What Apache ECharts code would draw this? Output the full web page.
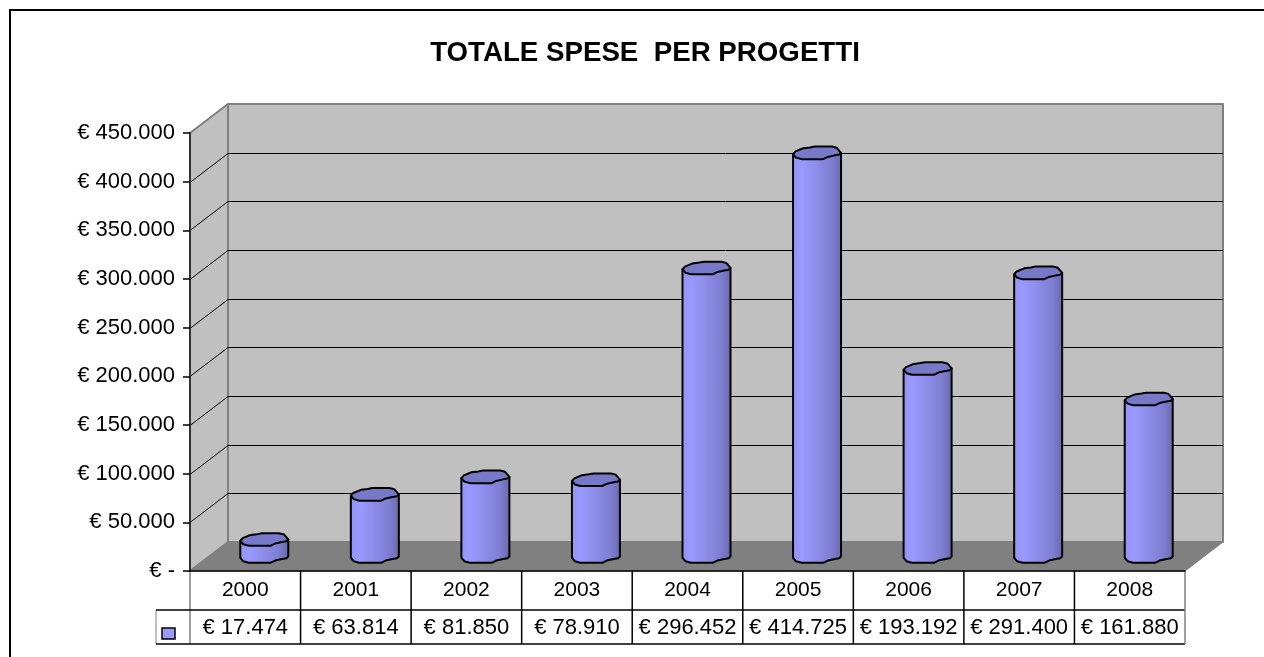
<!DOCTYPE html>
<html>
<head>
<meta charset="utf-8">
<title>Totale spese per progetti</title>
<script src="https://cdn.jsdelivr.net/npm/echarts@6/dist/echarts.min.js"></script>
<style>
    html, body { margin: 0; padding: 0; background: #fff; overflow: hidden; }
    #chart { width: 1264px; height: 657px; }
</style>
</head>
<body>
<div id="chart"></div>
<script>
const years = ['2000', '2001', '2002', '2003', '2004', '2005', '2006', '2007', '2008'];
const spese = [17474, 63814, 81850, 78910, 296452, 414725, 193192, 291400, 161880];
const yTicks = [0, 50000, 100000, 150000, 200000, 250000, 300000, 350000, 400000, 450000];

const FONT = '"Liberation Sans", Arial, sans-serif';
const DEPTH_X = 38;
const DEPTH_Y = 29;
const ROW_YEAR = 39;
const ROW_VALUE = 34;
const LEGEND_W = 34;

// contour of the low-poly cylinder cap, as fractions of the two radii
const capFront = [[1, 0], [0.92, 0.28], [0.74, 0.4], [0.45, 0.65], [0.26, 1], [-0.65, 1], [-0.88, 0.75], [-1, 0.2]];
const capBack = [[-0.9, -0.22], [-0.58, -0.72], [-0.3, -0.85], [-0.1, -1], [0.62, -1], [0.82, -0.8]];
const capOutline = capFront.concat(capBack);

const euro = (v) => v === 0 ? '€ -' : '€ ' + String(v).replace(/\B(?=(\d{3})+$)/g, '.');

const line = (x1, y1, x2, y2, stroke, lineWidth) => ({
    type: 'line',
    shape: { x1, y1, x2, y2 },
    style: { stroke, lineWidth }
});

const poly = (points, fill, stroke, lineWidth) => ({
    type: 'polygon',
    shape: { points },
    style: { fill, stroke, lineWidth, lineJoin: 'round' }
});

// back wall, side wall, floor and the gridlines on them
const renderWalls = (params, api) => {
    const { x, y, width, height } = params.coordSys;
    const bottom = y + height;
    const right = x + width;
    const children = [
        poly([[x, y], [x + DEPTH_X, y - DEPTH_Y], [x + DEPTH_X, bottom - DEPTH_Y], [x, bottom]], '#c0c0c0', '#808080', 2),
        poly([[x + DEPTH_X, y - DEPTH_Y], [right + DEPTH_X, y - DEPTH_Y], [right + DEPTH_X, bottom - DEPTH_Y], [x + DEPTH_X, bottom - DEPTH_Y]], '#c0c0c0', '#808080', 2),
        poly([[x, bottom], [x + DEPTH_X, bottom - DEPTH_Y], [right + DEPTH_X, bottom - DEPTH_Y], [right, bottom]], '#808080', '#808080', 1)
    ];
    yTicks.slice(1, -1).forEach((v) => {
        const gy = Math.round(api.coord([0, v])[1]) + 0.5;
        children.push(line(x, gy, x + DEPTH_X, gy - DEPTH_Y, '#000', 1));
        children.push(line(x + DEPTH_X, gy - DEPTH_Y, right + DEPTH_X, gy - DEPTH_Y, '#000', 1));
    });
    return { type: 'group', children };
};

const renderCylinder = (params, api) => {
    const top = api.coord([api.value(0), api.value(1)]);
    const base = api.coord([api.value(0), 0]);
    const cx = top[0] + DEPTH_X / 2;
    const rx = 24;
    const ry = 6.3;
    const topY = top[1] - DEPTH_Y / 2;
    const baseY = base[1] - DEPTH_Y / 2;
    const side = [[cx - rx, topY + 0.2 * ry], [cx + rx, topY]]
        .concat(capFront.map(([dx, dy]) => [cx + dx * rx, baseY + dy * ry]));
    const bodyFill = new echarts.graphic.LinearGradient(0, 0, 1, 0, [
        { offset: 0, color: '#9494f6' },
        { offset: 0.2, color: '#9999ff' },
        { offset: 0.5, color: '#8c8ce8' },
        { offset: 0.8, color: '#7d7dd0' },
        { offset: 1, color: '#6868aa' }
    ]);
    return {
        type: 'group',
        children: [
            poly(side, bodyFill, '#000', 2),
            poly(capOutline.map(([dx, dy]) => [cx + dx * rx, topY + dy * ry]), '#7878c8', '#000', 2)
        ]
    };
};

// data table below the plot: one cell per year, plus the legend key on the first row
const renderTable = (params, api) => {
    const i = api.value(0);
    const { x, y, width, height } = params.coordSys;
    const bottom = y + height;
    const cell = width / years.length;
    const left = x + cell * i;
    const right = left + cell;
    const rowTop = bottom + ROW_YEAR;
    const rowEnd = rowTop + ROW_VALUE;
    const last = i === years.length - 1;
    const children = [
        line(right, bottom, right, rowEnd, last ? '#808080' : '#000', 1.5),
        {
            type: 'text',
            style: {
                text: euro(api.value(1)),
                x: left + cell / 2,
                y: rowTop + ROW_VALUE / 2 + 1,
                align: 'center',
                verticalAlign: 'middle',
                font: '22px ' + FONT,
                fill: '#000'
            }
        }
    ];
    if (i === 0) {
        children.push(line(x, bottom, x, rowEnd, '#808080', 1.5));
        children.push(line(x - LEGEND_W, rowTop, x - LEGEND_W, rowEnd, '#808080', 1));
        children.push(line(x - LEGEND_W, rowTop, x + width, rowTop, '#000', 1.5));
        children.push(line(x - LEGEND_W, rowEnd, x + width, rowEnd, '#000', 1.5));
        children.push({
            type: 'rect',
            shape: { x: x - 28, y: rowTop + 18, width: 13, height: 11 },
            style: { fill: '#9999ff', stroke: '#000', lineWidth: 1.5 }
        });
    }
    return { type: 'group', children };
};

const chart = echarts.init(document.getElementById('chart'), null, { renderer: 'canvas' });
chart.setOption({
    animation: false,
    backgroundColor: '#fff',
    textStyle: { fontFamily: FONT },
    title: {
        text: 'TOTALE SPESE  PER PROGETTI',
        left: 640,
        top: 34,
        textAlign: 'center',
        textStyle: { fontFamily: FONT, fontSize: 27.7, fontWeight: 'bold', color: '#000' }
    },
    grid: { left: 190, right: 79, top: 133, bottom: 86 },
    xAxis: {
        type: 'category',
        data: years,
        z: 5,
        axisLine: { lineStyle: { color: '#000', width: 1.5 } },
        axisTick: { show: false },
        axisLabel: { color: '#000', fontSize: 21, margin: 9, fontFamily: FONT }
    },
    yAxis: {
        type: 'value',
        min: 0,
        max: 450000,
        interval: 50000,
        z: 5,
        axisLine: { show: true, lineStyle: { color: '#333', width: 2 } },
        axisTick: { show: true, length: 7, lineStyle: { color: '#000', width: 1.5 } },
        axisLabel: { color: '#000', fontSize: 22, margin: 15, fontFamily: FONT, formatter: euro },
        splitLine: { show: false }
    },
    graphic: [{
        type: 'polyline',
        silent: true,
        shape: { points: [[10, 657], [10, 10], [1264, 10]] },
        style: { fill: 'none', stroke: '#000', lineWidth: 2 }
    }],
    series: [
        { type: 'custom', z: 1, silent: true, renderItem: renderWalls, data: [[0, 0]] },
        { type: 'custom', z: 3, renderItem: renderTable, silent: true, data: spese.map((v, i) => [i, v]) },
        { type: 'custom', z: 4, renderItem: renderCylinder, data: spese.map((v, i) => [i, v]) }
    ]
});
</script>
</body>
</html>
